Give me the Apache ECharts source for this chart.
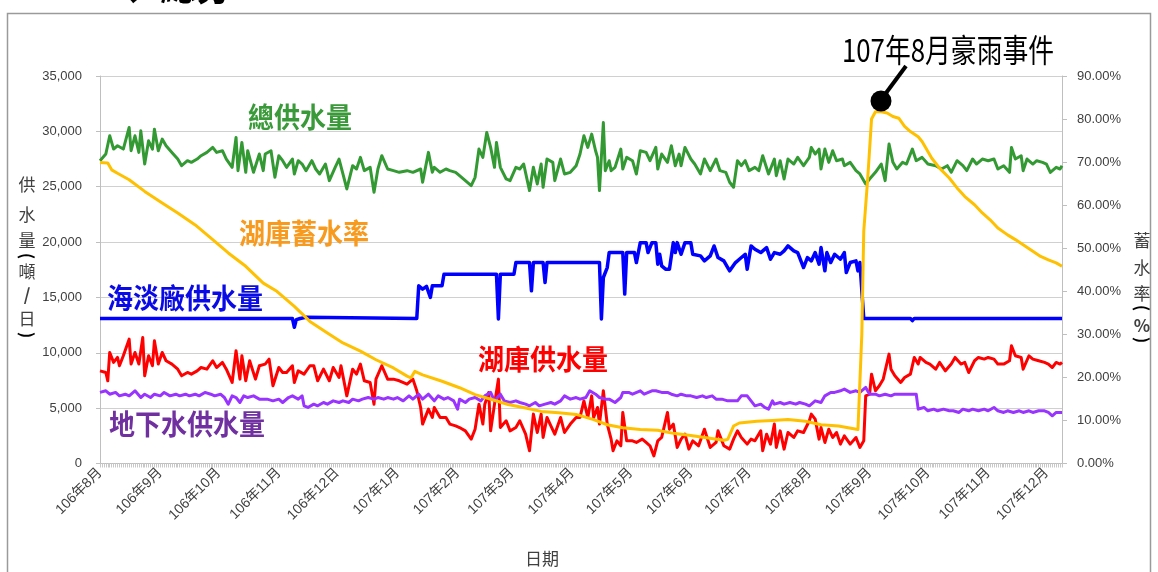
<!DOCTYPE html>
<html><head><meta charset="utf-8">
<script src="https://cdn.jsdelivr.net/npm/echarts@6/dist/echarts.min.js"></script>
<style>html,body{margin:0;padding:0;background:#fff}#c{width:1158px;height:572px}</style>
</head><body><div id="c"></div>
<script>
// ---- data ----
const START_YEAR = 2017, START_MONTH = 7, DAY_COUNT = 496; // daily categories from 2017-08-01
const monthLabels = ['106年8月','106年9月','106年10月','106年11月','106年12日','107年1月','107年2月','107年3月','107年4月','107年5月','107年6月','107年7月','107年8月','107年9月','107年10月','107年11月','107年12月'];
const leftTicks = {min:0, max:35000, interval:5000};
const rightTicks = {min:0, max:90, interval:10};

// [day index from 2017-08-01, value]
const totalSupply = [[0,27350],[3,27950],[5,29600],[7,28400],[9,28700],[12,28400],[15,30350],[16,28250],[18,29600],[20,28100],[21,30050],[23,27050],[25,29150],[27,28400],[28,30200],[30,28250],[32,29300],[34,28700],[37,28100],[40,27500],[42,26900],[45,27350],[47,27200],[50,27500],[52,27800],[55,28100],[58,28550],[60,28100],[63,28250],[65,27500],[68,26750],[70,29450],[71,26450],[73,29000],[75,26300],[76,28250],[79,26300],[82,27950],[84,26450],
[85,27950],[88,28250],[90,25850],[92,27800],[94,27350],[96,26750],[99,27500],[100,26150],[102,27350],[104,27050],[106,26450],[109,27350],[111,26600],[113,26150],[116,27050],[118,25550],[121,26750],[123,27500],[125,26150],[127,24800],[130,26900],[132,26600],[134,27650],[136,26450],[139,26750],[141,24500],[143,26600],[145,27800],[148,26600],[151,26450],[154,26300],[158,26450],[161,26300],[165,26600],[166,25400],
[169,28100],[171,26300],[172,26750],[175,26300],[178,26600],[180,26450],[183,26300],[185,26000],[188,25550],[191,25100],[193,25850],[195,28400],[197,27650],[199,29900],[201,28550],[203,26750],[204,29000],[206,26750],[209,25700],[211,25550],[214,26750],[216,26600],[218,27050],[221,24650],[223,26750],[225,25250],[227,27050],[228,24950],[230,27500],[233,27200],[234,25550],[237,27500],[239,26150],[242,26300],[245,26900],[247,27950],[249,29600],[251,28550],[253,29750],
[255,28250],[256,27650],[257,24650],[259,30800],[260,26450],[262,27350],[263,26450],[265,26750],[268,28400],[269,26600],[271,27650],[274,27350],[276,26150],[278,28250],[281,28100],[283,27350],[286,28550],[287,26600],[289,27950],[292,27200],[294,28700],[296,26900],[298,27950],[299,26900],[301,28550],[304,27500],[306,27050],[309,26150],[311,27500],[314,26450],[317,27500],[319,26450],[322,26300],[324,25400],[326,24950],[328,27350],[330,26900],[332,27350],[334,26450],
[337,26750],[339,26450],[341,27800],[344,26150],[347,27500],[348,26000],[350,27350],[352,25700],[354,27500],[357,27050],[359,27650],[362,26900],[365,27650],[366,28550],[368,27950],[370,28400],[371,26600],[373,28400],[375,27200],[377,28250],[379,27350],[382,27500],[383,26900],[386,27200],[389,26450],[391,26150],[394,25250],[396,25700],[399,26300],[402,27050],[404,25550],[406,28850],[408,27200],[410,26600],[413,27200],[415,27050],[418,28400],[420,27350],
[423,27650],[426,27050],[430,26900],[433,26600],[436,26900],[438,26300],[441,27350],[444,26900],[446,26450],[449,27500],[451,27050],[454,27500],[457,27350],[460,27500],[462,26600],[465,26900],[468,26300],[469,28550],[471,27500],[474,27800],[475,26450],[477,27500],[480,27050],[482,27350],[485,27200],[487,27050],[489,26300],[492,26750],[494,26600],[495,26900]];

const desalSupply = [[0,13100],[99,13100],[100,12300],[101,13000],[103,13100],[106,13200],[107,13100],[163,13100],[164,16050],[166,15750],[168,16000],[170,15000],[171,16050],[176,16050],[177,17100],[204,17100],[205,13050],[206,17100],[213,17100],[214,18150],[221,18150],[222,15600],[223,18150],[228,18150],[229,16350],[230,18150],[257,18150],[258,13050],[259,16800],[261,17700],[262,19050],[269,19050],[270,15300],[271,19050],[275,19050],[276,18150],[278,19950],[281,19950],[282,19050],[284,19950],[286,19950],[287,18000],[288,18900],[289,17850],[291,17550],[293,17550],[295,19950],[296,19050],[297,19950],[299,18900],[301,19950],[304,19950],[305,18900],[309,18750],[311,18300],[314,18750],[316,19650],[318,18600],[321,18300],[323,17700],[324,17400],[327,18150],[329,18450],[332,18900],[333,17550],[335,19650],[337,19350],[340,19050],[343,19500],[345,18450],[347,19050],[350,18900],[352,19200],[354,19650],[357,19200],[359,19050],[362,17700],[364,18600],[366,18300],[368,19050],[370,18000],[371,19500],[373,17400],[374,19050],[376,18150],[378,18900],[381,18450],[383,19050],[384,17250],[386,18150],[389,18300],[390,17400],[391,18150],[392,18300],[393,13100],[417,13100],[418,12900],[419,13100],[495,13100]];

const reservoirSupply = [[0,8370],[3,8220],[4,7470],[5,10030],[7,9130],[9,9580],[10,8830],[12,9730],[15,11230],[16,8980],[18,10030],[20,8980],[22,11380],[23,7920],[25,9730],[27,8830],[28,11080],[30,8980],[32,10030],[34,9280],[37,8980],[40,8520],[42,7920],[45,8220],[47,8070],[50,8370],[52,8670],[55,8520],[58,9280],[60,8670],[63,9130],[65,8520],[68,7320],[70,10180],[72,7620],[73,9730],[75,7470],[77,9280],[80,7620],[82,8830],
[85,8980],[87,9430],[89,7020],[92,8670],[94,8220],[96,8220],[99,8830],[100,7320],[102,8370],[105,8070],[108,8830],[110,8830],[112,7470],[115,8520],[118,7470],[120,8670],[123,7770],[124,8830],[127,6110],[130,8520],[132,8070],[134,8980],[136,7470],[139,7320],[141,5360],[142,7620],[145,8830],[148,7620],[151,7620],[154,7470],[158,7170],[161,7620],[163,6570],[165,5060],[166,3560],[168,4460],
[169,4910],[171,4160],[172,5060],[175,4160],[178,4160],[180,3560],[183,3400],[185,3250],[188,2950],[191,2200],[193,3100],[195,5360],[197,3560],[198,5360],[200,6420],[201,2950],[203,5360],[205,7620],[206,3250],[209,3860],[211,2950],[214,3250],[216,3860],[219,2650],[221,1150],[223,4460],[225,2800],[227,4460],[228,2350],[230,4160],[232,3400],[234,2650],[237,4160],[239,2800],[242,3560],[245,4160],[247,4160],[249,5660],[251,4160],[253,6110],
[254,4160],[256,5060],[257,3560],[259,6570],[261,3560],[263,2200],[264,1150],[266,2050],[268,1600],[269,4610],[271,2050],[274,2050],[276,1900],[279,2200],[281,1900],[283,1600],[285,690],[287,2050],[289,2350],[292,4610],[293,3100],[295,3560],[297,1450],[299,2200],[301,2650],[303,1300],[305,2050],[308,1600],[311,3100],[314,1450],[317,1900],[318,2950],[321,1600],[324,1300],[326,2200],[328,2950],[330,2350],[333,1750],[335,2200],
[337,2050],[340,2950],[341,1150],[343,2650],[345,1750],[347,3560],[348,1450],[350,2950],[352,1300],[354,2800],[357,2350],[359,2950],[362,2800],[365,3860],[366,4460],[368,4010],[370,2200],[371,3250],[373,1900],[375,3100],[377,2350],[379,2800],[381,1750],[383,2500],[386,1750],[389,2350],[391,1450],[393,2050],[394,6110],[396,6260],[397,8070],[399,6570],[401,7020],[403,7620],[406,9880],[407,8520],[409,7920],[412,7320],[414,7770],[417,8070],[419,9580],[421,8980],
[422,9580],[425,9130],[427,8980],[430,8520],[432,9130],[435,8370],[438,8980],[440,9580],[443,8980],[445,9130],[447,8220],[450,9280],[452,9580],[455,9430],[457,9580],[460,9430],[462,8980],[465,8980],[468,9280],[469,10630],[471,9730],[474,9580],[475,8520],[478,9730],[480,9430],[483,9280],[486,9130],[488,8980],[490,8670],[492,9130],[494,8980],[495,9130]];

const groundSupply = [[0,6420],[3,6570],[5,6260],[8,6420],[10,6110],[13,6260],[15,6110],[18,6570],[21,5960],[23,6260],[26,5960],[28,6260],[31,6110],[33,6420],[36,6110],[39,6260],[41,6110],[44,6260],[46,6110],[49,6260],[51,6110],[54,6420],[57,6260],[59,6110],[62,6260],[64,5960],[66,5360],[68,6110],[70,5960],[72,5510],[74,6110],[76,5960],[79,6110],[82,5810],
[86,5810],[89,5660],[92,5810],[94,5510],[97,5960],[99,6110],[102,5810],[104,6110],[105,5210],[107,5060],[110,5360],[112,5210],[115,5510],[117,5360],[120,5660],[123,5510],[125,5660],[128,5510],[130,5810],[133,5660],[135,5810],[138,5960],[141,5810],[143,5960],[146,5810],[148,5960],[151,5810],[153,5960],[156,5660],[159,6110],[161,5810],[164,6260],[166,5810],
[169,6260],[172,5660],[174,6110],[177,5810],[179,5960],[182,5660],[184,4910],[185,5810],[188,5510],[190,5810],[193,5960],[196,5660],[198,6110],[201,6420],[203,5660],[206,6260],[208,5660],[211,5510],[214,5660],[216,5510],[219,5360],[221,5210],[224,5510],[226,5210],[229,5360],[232,5510],[234,5360],[237,5660],[239,6110],[242,5810],[245,5960],[247,5810],[250,5960],[252,6570],
[255,6260],[257,5960],[260,5810],[262,5810],[265,5510],[268,5960],[269,6420],[272,6420],[274,6260],[278,6570],[280,6260],[284,6570],[286,6570],[289,6420],[292,6420],[294,6260],[297,6110],[299,6260],[302,6110],[304,6110],[307,5960],[310,6110],[312,5960],[315,6110],[317,5810],[320,5810],[323,5660],[325,5660],[328,5660],[330,6110],[333,6110],[335,5660],
[337,5210],[340,5360],[342,5060],[344,4910],[346,5660],[347,5360],[350,5510],[352,5360],[355,5510],[358,5360],[360,5510],[363,5360],[365,5210],[368,5660],[371,5510],[373,6110],[376,6420],[378,6420],[381,6570],[383,6720],[386,6420],[389,6570],[391,6420],[394,6870],[396,6260],[399,6260],[401,6110],[404,6260],[407,6110],[409,6260],[412,6260],[414,6260],[417,6260],[420,6260],[421,4910],
[424,5060],[426,4760],[429,4910],[431,4760],[434,4910],[437,4760],[439,4760],[442,4610],[444,4910],[447,4760],[449,4910],[452,4760],[455,4910],[457,4760],[460,5060],[462,4760],[465,4610],[467,4760],[470,4610],[473,4760],[475,4610],[478,4760],[480,4610],[483,4760],[486,4760],[488,4610],[490,4310],[492,4610],[495,4610]];

// reservoir storage rate (%), right axis
const storageRate = [[0,69.9],[4,69.8],[6,68.2],[9,67.4],[15,65.9],[23,63.2],[32,60.5],[40,58.2],[49,55.4],[58,52.0],[66,48.9],[75,45.8],[84,41.9],[91,40.0],[100,36.5],[108,33.0],[117,30.3],[125,28.0],[134,26.1],[142,24.1],[151,22.2],[158,20.3],[160,19.9],[162,21.4],[166,20.6],[176,19.1],[185,17.6],[193,16.0],[202,14.8],[210,13.7],[219,12.9],[227,12.1],[236,11.8],[245,11.4],[254,10.2],[261,9.0],[269,8.3],[278,7.9],[287,7.7],[295,7.0],[304,6.5],[312,6.0],[321,5.4],[323,5.6],[326,8.7],[329,9.4],[338,9.8],[346,10.0],[354,10.2],[363,9.8],[371,9.0],[380,8.7],[390,7.9],[391,7.7],[392,30.0],[393,54.0],[394,60.0],[395,66.0],[397,80.0],[399,81.7],[402,81.7],[405,81.4],[408,80.6],[411,80.2],[414,78.3],[417,77.1],[421,75.9],[423,74.8],[428,70.9],[432,68.6],[437,66.3],[441,64.0],[445,62.0],[450,60.1],[454,58.2],[458,56.6],[462,54.7],[467,53.1],[471,52.0],[475,50.8],[480,49.3],[484,48.1],[488,47.3],[492,46.6],[495,45.8]];

// ---- build categories ----
const categories = [], labelByDay = {};
for (let i = 0; i < DAY_COUNT; i++) {
  const d = new Date(Date.UTC(START_YEAR, START_MONTH, 1 + i));
  const key = d.toISOString().slice(0, 10);
  categories.push(key);
  if (d.getUTCDate() === 1) {
    const mi = (d.getUTCFullYear() - START_YEAR) * 12 + d.getUTCMonth() - START_MONTH;
    if (monthLabels[mi]) labelByDay[key] = monthLabels[mi];
  }
}

const CJK = '"Noto Sans CJK TC","Noto Sans CJK SC",sans-serif';
const LAT = '"Liberation Sans","Noto Sans CJK TC",sans-serif';
const axisGray = '#bfbfbf';

function lineSeries(name, data, color, width, yAxisIndex, z) {
  return {name, type: 'line', data, yAxisIndex, symbol: 'none', showSymbol: false,
    lineStyle: {color, width, join: 'round'}, itemStyle: {color}, z, silent: true, animation: false};
}

function txt(text, x, y, color, font, extra) {
  return Object.assign({type: 'text', x, y, silent: true, z: 100,
    style: {text, fill: color, font, textAlign: 'center', textVerticalAlign: 'middle'}}, extra || {});
}

// vertical axis titles: [char, y, rotation]
const leftTitle = [['供',185,0],['水',215,0],['量',241,0],['(',256,-Math.PI/2],['噸',272,0],['/',295,0],['日',319,0],[')',335,-Math.PI/2]];
const rightTitle = [['蓄',241,0],['水',268,0],['率',294,0],['(',308,-Math.PI/2],['%',326,0],[')',340,-Math.PI/2]];

const graphics = [
  {type: 'rect', shape: {x: 7.5, y: 13.5, width: 1143, height: 600}, style: {fill: 'none', stroke: '#9a9a9a', lineWidth: 1.5}, silent: true, z: 0},
  {type: 'text', x: 88, y: 5, silent: true, z: 100, style: {text: '一、總分', fill: '#000', font: 'bold 36px "Noto Sans CJK SC","Noto Sans CJK TC",sans-serif', textAlign: 'left', textVerticalAlign: 'bottom'}},
  txt('日期', 542, 559, '#404040', '17px ' + CJK),
  txt('總供水量', 300, 117, '#3a9a3a', 'bold 26px ' + CJK, {scaleY: 1.1}),
  txt('湖庫蓄水率', 304, 233, '#f79a1e', 'bold 26px ' + CJK, {scaleY: 1.1}),
  txt('海淡廠供水量', 185, 298, '#0a0ae6', 'bold 26px ' + CJK, {scaleY: 1.1}),
  txt('湖庫供水量', 543, 359, '#ff0000', 'bold 26px ' + CJK, {scaleY: 1.1}),
  txt('地下水供水量', 187, 424, '#7030a0', 'bold 26px ' + CJK, {scaleY: 1.1}),
  txt('107年8月豪雨事件', 948, 50, '#000', '30px ' + CJK, {scaleX: 0.86, scaleY: 1.05}),
  {type: 'line', shape: {x1: 886, y1: 93, x2: 906, y2: 66}, style: {stroke: '#000', lineWidth: 4}, silent: true, z: 100},
  {type: 'circle', shape: {cx: 881, cy: 101, r: 10.5}, style: {fill: '#000'}, silent: true, z: 100}
];
function titleChar([c, y, rot], x) {
  const paren = c === '(' || c === ')';
  return txt(c, x, y, paren ? '#000' : '#404040', (paren || c === '/' || c === '%' ? 'bold ' : '') + '17px ' + CJK, {rotation: rot});
}
leftTitle.forEach(t => graphics.push(titleChar(t, 27)));
rightTitle.forEach(t => graphics.push(titleChar(t, 1142)));

const chart = echarts.init(document.getElementById('c'), null, {renderer: 'canvas'});
chart.setOption({
  animation: false,
  backgroundColor: '#fff',
  grid: {left: 100, right: 96, top: 76, bottom: 108.5, containLabel: false},
  xAxis: {
    type: 'category', data: categories, boundaryGap: false,
    axisLine: {lineStyle: {color: axisGray, width: 1}},
    axisTick: {show: true, interval: 0, length: 4, lineStyle: {color: '#c8c8c8'}},
    axisLabel: {
      interval: (idx, val) => labelByDay[val] !== undefined,
      formatter: (val) => labelByDay[val] || '',
      rotate: 45, margin: 7, color: '#404040', fontSize: 14, fontFamily: LAT
    },
    splitLine: {show: false}
  },
  yAxis: [
    {type: 'value', min: leftTicks.min, max: leftTicks.max, interval: leftTicks.interval,
      axisLine: {show: true, lineStyle: {color: axisGray}},
      axisTick: {show: true, length: 4, lineStyle: {color: axisGray}},
      axisLabel: {margin: 18, color: '#404040', fontSize: 13, fontFamily: LAT,
        formatter: v => String(v).replace(/\B(?=(\d{3})+(?!\d))/g, ',')},
      splitLine: {show: true, lineStyle: {color: '#d0d0d0', width: 1}}},
    {type: 'value', position: 'right', min: rightTicks.min, max: rightTicks.max, interval: rightTicks.interval,
      axisLine: {show: true, lineStyle: {color: axisGray}},
      axisTick: {show: true, length: 5, lineStyle: {color: axisGray}},
      axisLabel: {margin: 15, color: '#404040', fontSize: 13, fontFamily: LAT,
        formatter: v => v.toFixed(2) + '%'},
      splitLine: {show: false}}
  ],
  series: [
    lineSeries('總供水量', totalSupply, '#339933', 3, 0, 2),
    lineSeries('海淡廠供水量', desalSupply, '#0000ff', 3.5, 0, 3),
    lineSeries('湖庫供水量', reservoirSupply, '#ff0000', 3, 0, 4),
    lineSeries('地下水供水量', groundSupply, '#9933ff', 3, 0, 5),
    lineSeries('湖庫蓄水率', storageRate, '#ffc000', 3, 1, 6)
  ],
  graphic: graphics
});
</script>
</body></html>
